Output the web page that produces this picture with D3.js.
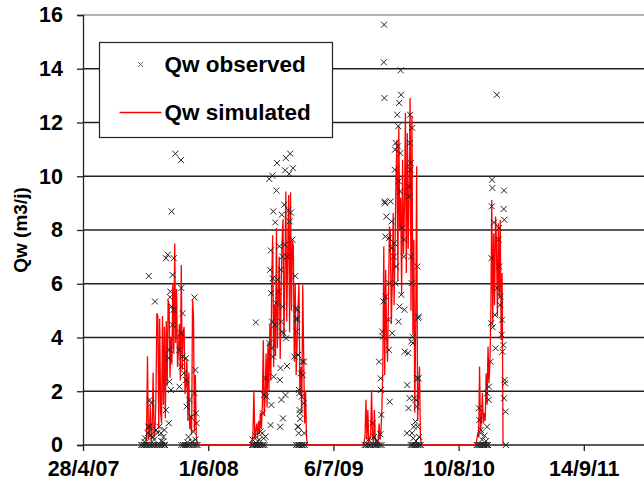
<!DOCTYPE html>
<html>
<head>
<meta charset="utf-8">
<script src="https://cdn.jsdelivr.net/npm/d3@7"></script>
<style>
  body { margin: 0; background: #fff; }
  svg { display: block; font-family: "Liberation Sans", Arial, sans-serif; font-weight: bold; }
</style>
</head>
<body>
<svg id="chart" width="644" height="492"></svg>
<script>
// dates are Excel serial days, as in the source workbook
const xTicks = [39200, 39600, 40000, 40400, 40800];
const xTickLabels = ["28/4/07", "1/6/08", "6/7/09", "10/8/10", "14/9/11"];
const yTicks = [0, 2, 4, 6, 8, 10, 12, 14, 16];

// simulated Qw : one value every 3 days from each season start
const simStep = 3;
const simStarts = [39400, 39737, 40095, 40455];
const simSeason1 = [0, 0.3, 3.3, 0.2, 0.4, 1.5, 0.1, 0.6, 2.7, 0.3, 0.5, 1.8, 4.9, 4.8, 0.6, 4.7,
  1.2, 0.8, 4.8, 1.5, 4.4, 1.0, 4.6, 2.2, 5.4, 5.2, 2.5, 4.0, 3.0, 6.0, 3.4, 7.5, 3.8, 5.8, 2.9,
  3.5, 4.5, 2.4, 6.7, 2.8, 4.2, 4.4, 1.9, 2.2, 3.2, 0.9, 2.7, 0.6, 1.1, 0.4, 5.4, 4.8, 0.5, 2.6, 0.3, 0];
const simSeason2 = [0, 0.1, 0.4, 2.05, 0.2, 0.5, 0.8, 0.3, 0.9, 0.4, 1.2, 0.6, 1.5, 3.9, 1.1, 1.8,
  3.4, 1.4, 3.8, 2.0, 4.5, 2.4, 6.15, 7.8, 2.9, 5.2, 3.3, 8.07, 3.6, 5.5, 7.0, 3.2, 5.8, 7.6, 8.4,
  4.0, 6.3, 9.43, 4.6, 7.2, 9.3, 4.2, 9.4, 5.0, 7.6, 7.4, 3.1, 6.0, 2.6, 3.8, 5.15, 6.0, 1.9, 2.9,
  1.2, 5.96, 3.4, 0.8, 2.0, 0.3, 0];
const simSeason3 = [0, 0.1, 0.3, 1.68, 0.2, 1.3, 0.1, 0.2, 0.4, 2.05, 0.3, 0.1, 1.3, 0.2, 0, 0,
  0.1, 0.8, 0.2, 0.5, 1.4, 2.92, 7.39, 2.6, 6.52, 4.0, 3.1, 5.4, 8.13, 7.88, 4.5, 6.0, 8.63, 5.2,
  7.4, 9.99, 11.36, 6.1, 11.86, 8.0, 9.2, 5.6, 10.61, 7.1, 8.9, 12.35, 6.4, 11.61, 7.3, 9.6, 12.91,
  5.0, 12.23, 4.1, 7.64, 1.2, 4.5, 10.37, 0.9, 1.8, 2.92, 0.3, 0];
const simSeason4 = [0, 0.2, 0.4, 0.3, 2.92, 0.5, 0.9, 1.93, 0.8, 1.2, 0.9, 2.67, 1.5, 3.66, 2.3,
  3.0, 4.9, 9.12, 4.5, 7.88, 5.2, 8.5, 7.5, 4.8, 8.25, 5.5, 8.38, 3.9, 6.4, 0];

// observed Qw : [date, value]
const obsSeason1 = [
  [39495, 10.84], [39513, 10.6], [39483, 8.69], [39471, 7.08], [39465, 6.95], [39490, 6.95],
  [39410, 6.29], [39486, 6.33], [39514, 5.84], [39556, 5.49], [39430, 5.34], [39479, 5.71],
  [39478, 5.5], [39483, 5.15], [39489, 5.03], [39518, 4.9], [39486, 4.47], [39513, 4.16],
  [39476, 3.54], [39474, 3.23], [39508, 3.54], [39518, 3.29], [39529, 3.23], [39514, 2.92],
  [39522, 2.67], [39559, 2.79], [39476, 2.36], [39481, 2.05], [39508, 2.17], [39529, 2.42],
  [39540, 1.68], [39556, 1.93], [39418, 1.55], [39465, 1.3], [39531, 1.43], [39545, 1.05],
  [39561, 1.18], [39563, 0.81], [39474, 0.81], [39412, 0.68], [39433, 0.56], [39449, 0.44],
  [39423, 0.31], [39396, 0.12], [39455, 0.12], [39444, 0.68], [39407, 0.44], [39460, 0.56],
  [39548, 0.12], [39534, 0.1], [39413, 1.68], [39409, 0.68], [39398, 0.25], [39416, 0.35],
  [39427, 0.2], [39438, 0.45], [39450, 0.15], [39457, 0.3], [39537, 0.3], [39552, 0.5],
  [39559, 0.2], [39386, 0], [39390, 0], [39395, 0], [39400, 0], [39404, 0], [39410, 0],
  [39415, 0], [39420, 0], [39425, 0], [39430, 0], [39436, 0], [39441, 0], [39447, 0],
  [39452, 0], [39458, 0], [39462, 0], [39514, 0], [39520, 0], [39526, 0], [39532, 0],
  [39538, 0], [39543, 0], [39550, 0], [39556, 0], [39562, 0], [39566, 0]
];
const obsSeason2 = [
  [39862, 10.84], [39848, 10.68], [39820, 10.49], [39871, 10.3], [39846, 10.22], [39859, 10.09],
  [39805, 10.02], [39795, 9.9], [39818, 9.47], [39843, 8.94], [39808, 8.69], [39856, 8.73],
  [39864, 8.65], [39835, 8.57], [39814, 8.28], [39860, 8.32], [39869, 7.64], [39800, 7.24],
  [39827, 7.39], [39845, 7.45], [39837, 7.01], [39853, 7.01], [39798, 6.52], [39832, 6.52],
  [39878, 6.29], [39821, 6.15], [39752, 4.56], [39806, 6.2], [39801, 5.65], [39825, 5.71],
  [39817, 5.28], [39838, 5.15], [39880, 5.09], [39885, 5.03], [39804, 4.59], [39833, 4.59],
  [39884, 4.66], [39813, 4.47], [39836, 4.22], [39796, 3.79], [39849, 3.97], [39803, 3.6],
  [39840, 4.16], [39875, 3.29], [39901, 3.1], [39807, 3.29], [39831, 2.86], [39852, 2.94],
  [39896, 2.67], [39902, 2.6], [39784, 2.48], [39809, 2.54], [39829, 2.42], [39779, 1.86],
  [39786, 1.8], [39834, 1.68], [39847, 1.86], [39891, 1.93], [39899, 1.8], [39802, 1.49],
  [39774, 1.18], [39799, 0.74], [39893, 1.18], [39888, 0.68], [39907, 0.44], [39773, 0.44],
  [39763, 0.19], [39783, 0.31], [39830, 0.68], [39839, 0.99], [39883, 4.72], [39882, 4.22],
  [39887, 3.35], [39906, 3.1], [39890, 2.05], [39905, 1.55], [39892, 1.3], [39894, 0.97],
  [39886, 0.68], [39889, 0.44], [39742, 0.2], [39750, 0.35], [39758, 0.15], [39767, 0.5],
  [39777, 0.25], [39740, 0], [39744, 0], [39748, 0], [39752, 0], [39756, 0], [39760, 0],
  [39765, 0], [39770, 0], [39775, 0], [39780, 0], [39881, 0], [39886, 0], [39890, 0],
  [39895, 0], [39900, 0], [39904, 0], [39909, 0]
];
const obsSeason3 = [
  [40162, 15.64], [40161, 14.24], [40215, 13.94], [40163, 12.91], [40216, 13.03], [40210, 12.73],
  [40204, 12.29], [40245, 12.29], [40207, 11.86], [40252, 11.8], [40199, 11.24], [40206, 11.11],
  [40197, 10.99], [40214, 10.86], [40244, 11.24], [40247, 10.49], [40196, 10.24], [40246, 10.24],
  [40209, 9.81], [40213, 9.43], [40242, 9.62], [40241, 9.25], [40164, 9.06], [40165, 9.0],
  [40183, 9.06], [40169, 8.5], [40186, 8.32], [40166, 7.76], [40178, 7.7], [40194, 7.51],
  [40187, 7.33], [40220, 8.07], [40226, 7.64], [40225, 7.01], [40193, 7.01], [40248, 7.01],
  [40268, 6.64], [40200, 6.64], [40179, 6.02], [40198, 6.02], [40250, 6.02], [40167, 5.52],
  [40160, 5.34], [40217, 5.59], [40211, 5.15], [40227, 5.03], [40176, 4.66], [40208, 4.59],
  [40271, 4.72], [40156, 4.22], [40159, 4.03], [40188, 4.16], [40249, 3.85], [40177, 3.54],
  [40228, 3.47], [40239, 3.42], [40146, 3.1], [40151, 2.48], [40152, 2.05], [40180, 1.61],
  [40236, 2.23], [40243, 1.74], [40267, 2.48], [40263, 1.68], [40153, 1.12], [40125, 0.81],
  [40240, 1.37], [40235, 0.44], [40262, 0.87], [40269, 0.68], [40273, 4.78], [40253, 4.03],
  [40254, 3.79], [40272, 2.48], [40258, 1.74], [40266, 1.43], [40257, 0.68], [40251, 0.44],
  [40112, 0.2], [40130, 0.3], [40139, 0.15], [40150, 0.4], [40255, 0.25], [40264, 0.15],
  [40274, 0.3], [40100, 0], [40105, 0], [40110, 0], [40115, 0], [40120, 0], [40128, 0],
  [40132, 0], [40137, 0], [40141, 0], [40148, 0], [40154, 0], [40247, 0], [40252, 0],
  [40256, 0], [40260, 0], [40265, 0], [40270, 0], [40275, 0], [40279, 0]
];
const obsSeason4 = [
  [40522, 13.03], [40507, 9.87], [40508, 9.56], [40545, 9.47], [40506, 8.88], [40544, 8.78],
  [40546, 8.38], [40513, 8.28], [40529, 8.07], [40528, 7.64], [40505, 6.95], [40530, 6.64],
  [40523, 5.84], [40534, 5.52], [40533, 5.21], [40516, 4.84], [40539, 4.66], [40504, 4.53],
  [40509, 4.38], [40538, 4.1], [40518, 3.6], [40543, 3.72], [40540, 3.47], [40502, 3.1],
  [40547, 2.42], [40548, 2.3], [40497, 2.17], [40491, 1.93], [40496, 1.68], [40545, 1.74],
  [40550, 1.24], [40465, 1.37], [40491, 0.68], [40466, 0.93], [40470, 0.44], [40471, 0.56],
  [40475, 0.2], [40483, 0.35], [40488, 0.15], [40551, 0], [40458, 0], [40460, 0], [40464, 0],
  [40468, 0], [40473, 0], [40477, 0], [40481, 0], [40486, 0], [40490, 0], [40494, 0]
];

const width = 644;
const height = 492;
const margin = { top: 15, left: 83, bottom: 47 };

const svg = d3.select("#chart");

const x = d3.scaleLinear()
  .domain([39200, 41200])
  .range([margin.left, margin.left + 626]);

const y = d3.scaleLinear()
  .domain([0, 16])
  .range([height - margin.bottom, margin.top]);

// gridlines
svg.append("g")
  .selectAll("line")
  .data(yTicks.filter((d) => d > 0))
  .join("line")
  .attr("x1", margin.left)
  .attr("x2", width)
  .attr("y1", (d) => y(d))
  .attr("y2", (d) => y(d))
  .attr("stroke", (d) => (d === 16 ? "#999" : "#222"))
  .attr("stroke-width", 1.3);

// y axis
const yAxis = svg.append("g")
  .attr("transform", `translate(${margin.left},0)`)
  .call(d3.axisLeft(y).tickValues(yTicks).tickSize(6).tickPadding(14));
yAxis.select(".domain").attr("stroke", "#222").attr("stroke-width", 1.3);
yAxis.selectAll(".tick line").attr("stroke", "#222").attr("stroke-width", 1.3);
yAxis.selectAll(".tick text")
  .attr("font-size", 21.5)
  .attr("font-family", "Liberation Sans, Arial, sans-serif")
  .attr("font-weight", "bold")
  .attr("fill", "#000");

// x axis
const xAxis = svg.append("g")
  .attr("transform", `translate(0,${y(0)})`)
  .call(d3.axisBottom(x)
    .tickValues(xTicks)
    .tickFormat((d, i) => xTickLabels[i])
    .tickSize(6)
    .tickPadding(10)
    .tickSizeOuter(0));
xAxis.select(".domain")
  .attr("d", `M${margin.left},0H${width}`)
  .attr("stroke", "#222")
  .attr("stroke-width", 1.3);
xAxis.selectAll(".tick line").attr("stroke", "#222").attr("stroke-width", 1.3);
xAxis.selectAll(".tick text")
  .attr("font-size", 21.5)
  .attr("font-family", "Liberation Sans, Arial, sans-serif")
  .attr("font-weight", "bold")
  .attr("fill", "#000");

// y title
svg.append("text")
  .attr("transform", `translate(27,${(y(0) + y(16)) / 2}) rotate(-90)`)
  .attr("text-anchor", "middle")
  .attr("font-size", 19)
  .text("Qw (m3/j)");

// simulated series
const simulated = [simSeason1, simSeason2, simSeason3, simSeason4].flatMap((vals, s) =>
  vals.map((v, i) => [simStarts[s] + i * simStep, v])
);

svg.append("path")
  .datum(simulated)
  .attr("fill", "none")
  .attr("stroke", "#ff0000")
  .attr("stroke-width", 1.3)
  .attr("d", d3.line().x((d) => x(d[0])).y((d) => y(d[1])));

// observed series
const observed = [...obsSeason1, ...obsSeason2, ...obsSeason3, ...obsSeason4];
const cross = (r) => `M${-r},${-r}L${r},${r}M${-r},${r}L${r},${-r}`;

svg.append("g")
  .selectAll("path")
  .data(observed)
  .join("path")
  .attr("transform", (d) => `translate(${x(d[0])},${y(d[1])})`)
  .attr("d", cross(3))
  .attr("fill", "none")
  .attr("stroke", "#222")
  .attr("stroke-width", 1);

// legend
const legend = svg.append("g").attr("transform", "translate(99.5,42.5)");
legend.append("rect")
  .attr("width", 233)
  .attr("height", 95)
  .attr("fill", "#fff")
  .attr("stroke", "#222")
  .attr("stroke-width", 1.2);
legend.append("path")
  .attr("transform", "translate(41,22)")
  .attr("d", cross(2.5))
  .attr("stroke", "#666")
  .attr("stroke-width", 1);
legend.append("line")
  .attr("x1", 20).attr("x2", 62)
  .attr("y1", 70).attr("y2", 70)
  .attr("stroke", "#ff0000")
  .attr("stroke-width", 1.3);
legend.selectAll("text.item")
  .data(["Qw observed", "Qw simulated"])
  .join("text")
  .attr("class", "item")
  .attr("x", 65)
  .attr("y", (d, i) => 22 + i * 48)
  .attr("dy", "0.35em")
  .attr("font-size", 22.5)
  .text((d) => d);
</script>
</body>
</html>
